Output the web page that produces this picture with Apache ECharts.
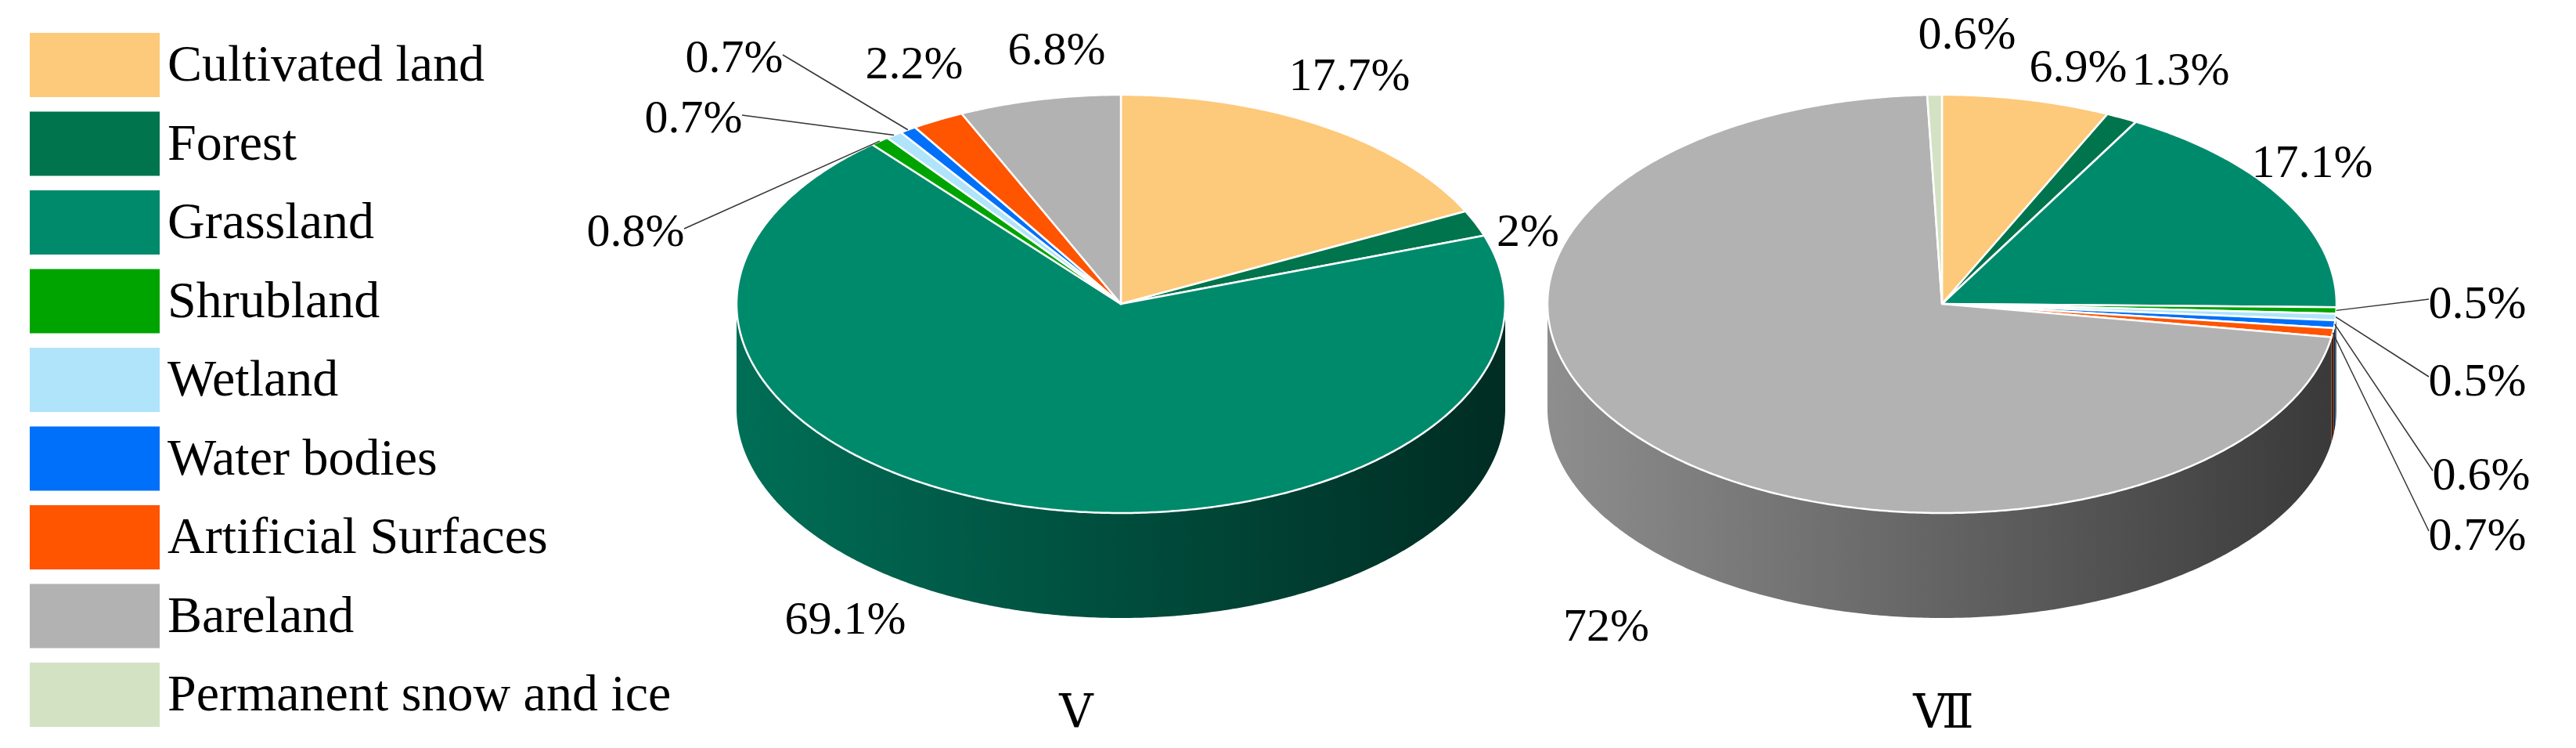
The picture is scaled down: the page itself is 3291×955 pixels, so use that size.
<!DOCTYPE html>
<html><head><meta charset="utf-8">
<script src="https://cdn.jsdelivr.net/npm/echarts@6/dist/echarts.min.js"></script>
<style>html,body{margin:0;background:#fff}#c{width:3291px;height:955px}</style>
</head><body><div id="c"></div>
<script>
const categories = ['Cultivated land','Forest','Grassland','Shrubland','Wetland','Water bodies','Artificial Surfaces','Bareland','Permanent snow and ice'];
const colors = ['#fdc97a','#00744c','#008a6c','#00a400','#afe4fb','#0070fa','#ff5400','#b2b2b2','#d4e2c4'];
const valuesV = [17.7, 2, 69.1, 0.8, 0.7, 0.7, 2.2, 6.8, 0];
const valuesVII = [6.9, 1.3, 17.1, 0.5, 0.5, 0.6, 0.7, 72, 0.6];
const labelsV = ['17.7%','2%','69.1%','0.8%','0.7%','0.7%','2.2%','6.8%',''];
const labelsVII = ['6.9%','1.3%','17.1%','0.5%','0.5%','0.6%','0.7%','72%','0.6%'];
const pieTitles = ['Ⅴ','Ⅶ'];

// layout (pixels)
const pies = [
  {cx:1432, cy:388, rx:491, ry:267, depth:134, values:valuesV, labels:labelsV,
   lpos:[[1724,99],[1952,298],[1080,793],[812,298],[886,153],[938,76],[1168,84],[1350,66],null],
   lines:[0,0,0,1,1,1,0,0,0], title:[1375,913]},
  {cx:2481, cy:388, rx:504, ry:267, depth:134, values:valuesVII, labels:labelsVII,
   lpos:[[2655,88],[2786,92],[2954,210],[3165,390],[3165,489],[3170,609],[3165,686],[2052,802],[2513,46]],
   lines:[0,0,0,1,1,1,1,0,0], title:[2483,913]}
];
const FONT = '"Liberation Serif","DejaVu Serif",serif';

function shade(hex, f){
  const n = parseInt(hex.slice(1),16);
  const r=(n>>16)&255,g=(n>>8)&255,b=n&255;
  return 'rgb('+Math.round(r*f)+','+Math.round(g*f)+','+Math.round(b*f)+')';
}

function makeSeries(pi){
  const P = pies[pi];
  const total = P.values.reduce((a,b)=>a+b,0);
  let acc = 0;
  const data = P.values.map((v,i)=>{const s=acc/total*360; acc+=v; return [s, acc/total*360, i];});
  const pt = (deg, dy)=>{const t=deg*Math.PI/180; return [P.cx+P.rx*Math.sin(t), P.cy-P.ry*Math.cos(t)+(dy||0)];};
  return {
    type:'custom', coordinateSystem:'none', name:'pie'+pi, silent:true,
    data: data,
    renderItem: function(params, api){
      const a0 = api.value(0), a1 = api.value(1), i = api.value(2);
      const children = [];
      if (a1 - a0 > 0.0001) {
        const s0 = Math.max(a0, 90), s1 = Math.min(a1, 270);
        if (s1 > s0) {
          const pts = [];
          const n = Math.max(2, Math.ceil((s1-s0)/0.5));
          for (let k=0;k<=n;k++) pts.push(pt(s0+(s1-s0)*k/n));
          for (let k=n;k>=0;k--) pts.push(pt(s0+(s1-s0)*k/n, P.depth));
          children.push({type:'polygon', shape:{points:pts}, z2:1,
            style:{fill:{type:'linear', x:P.cx-P.rx, y:0, x2:P.cx+P.rx, y2:0, global:true,
              colorStops:[{offset:0,color:shade(colors[i],0.8)},{offset:1,color:shade(colors[i],0.32)}]},
              stroke:null}});
        }
        const tp = [[P.cx,P.cy]];
        const n2 = Math.max(2, Math.ceil((a1-a0)/0.5));
        for (let k=0;k<=n2;k++) tp.push(pt(a0+(a1-a0)*k/n2));
        children.push({type:'polygon', shape:{points:tp}, z2:3,
          style:{fill:colors[i], stroke:'#ffffff', lineWidth:2.5, lineJoin:'round'}});
      }
      const lp = P.lpos[i];
      if (lp && P.labels[i]) {
        children.push({type:'text', z2:5, style:{text:P.labels[i], x:lp[0], y:lp[1], align:'center', verticalAlign:'middle',
          font:'60px '+FONT, fill:'#000'}});
        if (P.lines[i]) {
          const mid = pt((a0+a1)/2);
          const w = P.labels[i].length*15;
          const onLeft = lp[0] < P.cx;
          const sx = onLeft ? lp[0]+w+2 : lp[0]-w-2;
          children.push({type:'line', z2:4, shape:{x1:mid[0], y1:mid[1], x2:sx, y2:lp[1]+(onLeft?-6:-8)},
            style:{stroke:'#333', lineWidth:1.5}});
        }
      }
      return {type:'group', children};
    }
  };
}

const graphics = [];
categories.forEach((c,i)=>{
  const y = 42 + i*100.5;
  graphics.push({type:'rect', shape:{x:38,y:y,width:166,height:82}, style:{fill:colors[i]}});
  graphics.push({type:'text', style:{text:c, x:214, y:y+44, verticalAlign:'middle', font:'66px '+FONT, fill:'#000'}});
});
pies.forEach((P,pi)=>{
  graphics.push({type:'text', style:{text:pieTitles[pi], x:P.title[0], y:P.title[1], align:'center', verticalAlign:'middle', font:'60px '+FONT, fill:'#000'}});
});

const chart = echarts.init(document.getElementById('c'), null, {renderer:'canvas'});
chart.setOption({
  backgroundColor:'#fff',
  animation:false,
  graphic: graphics,
  series:[makeSeries(0), makeSeries(1)]
});
</script></body></html>
